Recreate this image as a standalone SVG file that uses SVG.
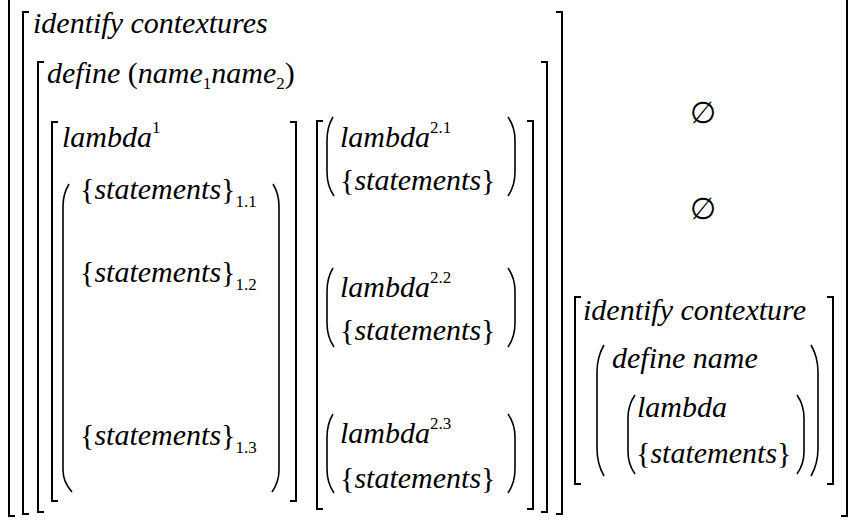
<svg xmlns="http://www.w3.org/2000/svg" width="849" height="520" viewBox="0 0 849 520">
<rect width="849" height="520" fill="#fff"/>
<g id="brackets-and-parens" fill="none" stroke="#000" stroke-width="2">
<g id="outer">
<path d="M15,-5 H9 V516 H15"/>
<path d="M841,-5 H847 V516 H841"/>
</g>
<g id="identify-contextures-brackets">
<path d="M29,12 H23 V514 H29"/>
<path d="M556,12 H562 V514 H556"/>
</g>
<g id="define-brackets">
<path d="M44,62 H38 V512 H44"/>
<path d="M541,62 H547 V512 H541"/>
</g>
<g id="lambda1-brackets">
<path d="M58,122 H52 V501 H58"/>
<path d="M290,122 H296 V501 H290"/>
<path stroke-width="1.6" d="M69,184 Q63,194 63,206 V470 Q63,482 72,492"/>
<path stroke-width="1.6" d="M273,184 Q279,194 279,206 V470 Q279,482 272,492"/>
</g>
<g id="lambda2-brackets">
<path d="M323,121 H317 V509 H323"/>
<path d="M527,121 H533 V509 H527"/>
<path stroke-width="1.6" d="M333,117 Q327,127 327,140 V172 Q327,186 334,196"/>
<path stroke-width="1.6" d="M508,117 Q515,127 515,140 V172 Q515,186 508,196"/>
<path stroke-width="1.6" d="M333,268 Q327,278 327,291 V323 Q327,337 334,347"/>
<path stroke-width="1.6" d="M508,268 Q515,278 515,291 V323 Q515,337 508,347"/>
<path stroke-width="1.6" d="M333,414 Q327,424 327,437 V469 Q327,483 334,493"/>
<path stroke-width="1.6" d="M508,414 Q515,424 515,437 V469 Q515,483 508,493"/>
</g>
<g id="identify-contexture-brackets">
<path d="M581,297 H575 V484 H581"/>
<path d="M827,297 H833 V484 H827"/>
<path stroke-width="1.6" d="M604,345 Q597,357 597,372 V448 Q597,464 604,476"/>
<path stroke-width="1.6" d="M811,345 Q818,357 818,372 V448 Q818,464 811,476"/>
<path stroke-width="1.6" d="M635,395 Q628,405 628,418 V452 Q628,464 635,474"/>
<path stroke-width="1.6" d="M797,395 Q804,405 804,418 V452 Q804,464 797,474"/>
</g>
</g>
<g id="identify-contextures">
<text x="33" y="33" font-size="30" font-style="italic" font-family="Liberation Serif">identify contextures</text>
</g>
<g id="define">
<text x="47" y="83" font-size="30" font-style="italic" font-family="Liberation Serif">define <tspan font-style="normal">(</tspan>name<tspan font-style="normal" font-size="17" dy="6">1</tspan><tspan dy="-6">name</tspan><tspan font-style="normal" font-size="17" dy="6">2</tspan><tspan font-style="normal" dy="-6">)</tspan></text>
</g>
<g id="lambda1">
<text x="62" y="147" font-size="30" font-style="italic" font-family="Liberation Serif">lambda<tspan font-style="normal" font-size="17" dy="-14">1</tspan></text>
<text x="80" y="199" font-size="30" font-style="italic" font-family="Liberation Serif"><tspan font-style="normal">{</tspan>statements<tspan font-style="normal">}</tspan><tspan font-style="normal" font-size="17" dy="8">1.1</tspan></text>
<text x="80" y="282" font-size="30" font-style="italic" font-family="Liberation Serif"><tspan font-style="normal">{</tspan>statements<tspan font-style="normal">}</tspan><tspan font-style="normal" font-size="17" dy="8">1.2</tspan></text>
<text x="80" y="445" font-size="30" font-style="italic" font-family="Liberation Serif"><tspan font-style="normal">{</tspan>statements<tspan font-style="normal">}</tspan><tspan font-style="normal" font-size="17" dy="8">1.3</tspan></text>
</g>
<g id="lambda2">
<text x="340" y="147" font-size="30" font-style="italic" font-family="Liberation Serif">lambda<tspan font-style="normal" font-size="17" dy="-14">2.1</tspan></text>
<text x="340" y="190" font-size="30" font-style="italic" font-family="Liberation Serif"><tspan font-style="normal">{</tspan>statements<tspan font-style="normal">}</tspan></text>
<text x="340" y="297" font-size="30" font-style="italic" font-family="Liberation Serif">lambda<tspan font-style="normal" font-size="17" dy="-14">2.2</tspan></text>
<text x="340" y="340" font-size="30" font-style="italic" font-family="Liberation Serif"><tspan font-style="normal">{</tspan>statements<tspan font-style="normal">}</tspan></text>
<text x="340" y="443" font-size="30" font-style="italic" font-family="Liberation Serif">lambda<tspan font-style="normal" font-size="17" dy="-14">2.3</tspan></text>
<text x="340" y="488" font-size="30" font-style="italic" font-family="Liberation Serif"><tspan font-style="normal">{</tspan>statements<tspan font-style="normal">}</tspan></text>
</g>
<g id="empty1"><text x="703" y="123" font-size="30" font-family="Liberation Serif" text-anchor="middle">∅</text></g>
<g id="empty2"><text x="703" y="219" font-size="30" font-family="Liberation Serif" text-anchor="middle">∅</text></g>
<g id="identify-contexture">
<text x="583" y="320" font-size="30" font-style="italic" font-family="Liberation Serif">identify contexture</text>
<text x="612" y="368" font-size="30" font-style="italic" font-family="Liberation Serif">define name</text>
<text x="637" y="417" font-size="30" font-style="italic" font-family="Liberation Serif">lambda</text>
<text x="636" y="463" font-size="30" font-style="italic" font-family="Liberation Serif"><tspan font-style="normal">{</tspan>statements<tspan font-style="normal">}</tspan></text>
</g>
</svg>
